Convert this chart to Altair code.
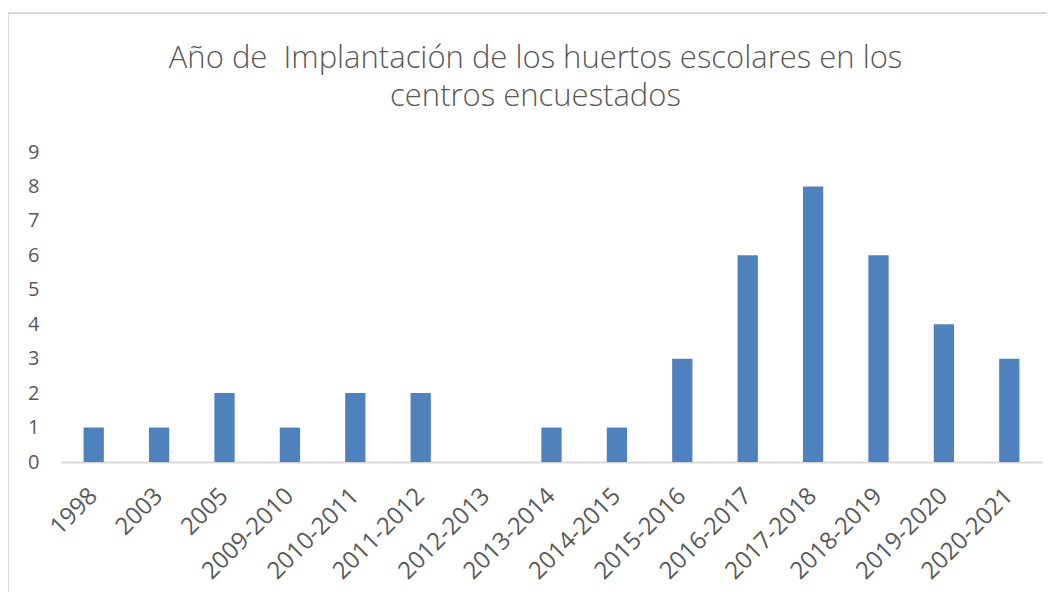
import altair as alt
import pandas as pd

categories = ["1998", "2003", "2005", "2009-2010", "2010-2011", "2011-2012", "2012-2013",
              "2013-2014", "2014-2015", "2015-2016", "2016-2017", "2017-2018", "2018-2019",
              "2019-2020", "2020-2021"]
values = [1, 1, 2, 1, 2, 2, 0, 1, 1, 3, 6, 8, 6, 4, 3]
y_ticks = list(range(0, 10))
title_lines = ["Año de \u00a0Implantación de los huertos escolares en los", "centros encuestados"]

df = pd.DataFrame({"cat": categories, "val": values})

FONT = "Open Sans"
GRAY = "#595959"

bars = alt.Chart(df).mark_bar(color="#4F81BD").encode(
    x=alt.X("cat:N", sort=categories, title=None,
            scale=alt.Scale(paddingInner=0.69, paddingOuter=0.345),
            axis=alt.Axis(labelAngle=-45, labelAlign="right", labelBaseline="middle",
                          labelFontSize=24, labelColor=GRAY, labelFont=FONT,
                          labelPadding=30, ticks=False, domainColor="#D9D9D9",
                          domainWidth=2, labelOverlap=False)),
    y=alt.Y("val:Q", title=None,
            scale=alt.Scale(domain=[0, 9], nice=False),
            axis=alt.Axis(values=y_ticks, grid=False, domain=False, ticks=False,
                          labelFontSize=20, labelColor=GRAY, labelFont=FONT,
                          labelPadding=22)),
)

frame_df = pd.DataFrame({"k": [0]})
top_line = alt.Chart(frame_df).mark_rule(color="#D9D9D9", strokeWidth=2).encode(
    x=alt.value(-53), x2=alt.value(990), y=alt.value(-139))
left_line = alt.Chart(frame_df).mark_rule(color="#D9D9D9", strokeWidth=2).encode(
    x=alt.value(-53), y=alt.value(-139), y2=alt.value(460))

chart = alt.layer(top_line, left_line, bars).properties(
    width=981, height=310,
    padding={"left": 53, "top": 144, "right": 5, "bottom": 130},
    autosize=alt.AutoSizeParams(type="none"),
    title=alt.TitleParams(title_lines, anchor="middle", fontSize=31, font=FONT,
                          fontWeight=300, color=GRAY, lineHeight=38, dx=-16, offset=-101),
).configure_view(stroke=None)

chart.save("out.html", embed_options={"renderer": "svg", "actions": False})
